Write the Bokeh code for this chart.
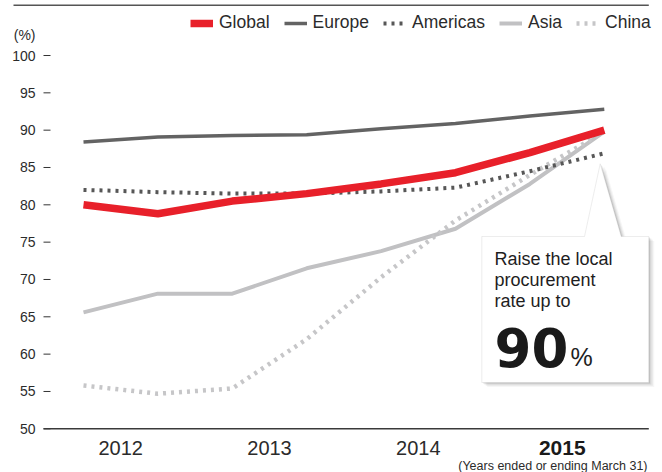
from bokeh.plotting import figure
from bokeh.models import (Label, BoxAnnotation, PolyAnnotation,
                          Legend, LegendItem, Range1d)
from bokeh.core.properties import value
from bokeh.embed import file_html
from bokeh.resources import INLINE

# ---------------- data ----------------
periods = [0, 1, 2, 3, 4, 5, 6, 7]          # half-year steps, FY2012 .. FY2015
years = ["2012", "2013", "2014", "2015"]
global_rate = [80.0, 78.8, 80.5, 81.5, 82.8, 84.3, 87.0, 90.0]
europe_rate = [88.4, 89.1, 89.3, 89.4, 90.2, 90.9, 91.9, 92.8]
americas_rate = [82.0, 81.7, 81.5, 81.5, 81.8, 82.3, 84.5, 86.9]
asia_rate = [65.6, 68.1, 68.1, 71.5, 73.8, 76.8, 82.8, 89.8]
china_rate = [55.8, 54.7, 55.4, 62.0, 70.3, 77.9, 84.0, 89.8]
y_ticks = [50, 55, 60, 65, 70, 75, 80, 85, 90, 95, 100]
target_value = 90
callout_lines = ["Raise the local", "procurement", "rate up to"]
footnote = "(Years ended or ending March 31)"

FONT = "Liberation Sans"
TXT = "#2b2b2b"
W, H = 662, 472

# pixel <-> data helpers (used only for layout of decorations)
X0, XS = 83.0, 74.4            # px of period 0, px per period
Y100, YS = 55.0, 7.466         # px of 100 %, px per percentage point


def dx(px):
    return (px - X0) / XS


def dy(py):
    return 100 - (py - Y100) / YS


p = figure(width=W, height=H, output_backend="svg", toolbar_location=None,
           x_range=Range1d(dx(0), dx(W)), y_range=Range1d(dy(H), dy(0)),
           x_axis_type=None, y_axis_type=None, min_border=0)
p.outline_line_color = None
p.background_fill_color = "white"
p.border_fill_color = "white"

# ---------------- y axis (ticks + labels) ----------------
p.segment(x0=[dx(43)] * len(y_ticks), x1=[dx(50)] * len(y_ticks),
          y0=y_ticks, y1=y_ticks, line_color="#333333", line_width=1)
p.text(x=[dx(35)] * len(y_ticks), y=y_ticks, text=[str(t) for t in y_ticks],
       text_align="right", text_baseline="middle", text_font=value(FONT),
       text_font_size="14px", text_color=TXT)
p.text(x=[dx(35)], y=[dy(34)], text=["(%)"], text_align="right",
       text_baseline="middle", text_font=value(FONT), text_font_size="14px",
       text_color=TXT)

# ---------------- x axis ----------------
p.segment(x0=[dx(43)], x1=[dx(648.3)], y0=[y_ticks[0]], y1=[y_ticks[0]],
          line_color="#3a3a3a", line_width=1.5)
year_pos = [2 * i + 0.5 for i in range(len(years))]
p.text(x=year_pos[:-1], y=[dy(447)] * (len(years) - 1), text=years[:-1],
       text_align="center", text_baseline="middle", text_font=value(FONT),
       text_font_size="20px", text_color=TXT)
p.text(x=[year_pos[-1] - 0.065], y=[dy(447)], text=[years[-1]],
       text_align="center", text_baseline="middle", text_font=value(FONT),
       text_font_size="21px", text_font_style="bold", text_color="#1a1a1a")
p.text(x=[dx(647)], y=[dy(465.5)], text=[footnote], text_align="right",
       text_baseline="middle", text_font=value(FONT), text_font_size="12.5px",
       text_color=TXT)

# top rule
p.add_layout(BoxAnnotation(left=dx(13), right=dx(648.3), top=dy(4.1), bottom=dy(5.5),
                           fill_color="#555555", fill_alpha=1, line_color=None))

# ---------------- lines ----------------
r_asia = p.line(periods, asia_rate, line_color="#c1c1c3", line_width=4)
r_china = p.line(periods, china_rate, line_color="#c6c6c8", line_width=4.5,
                 line_dash="3 5")
r_europe = p.line(periods, europe_rate, line_color="#636363", line_width=3.5)
r_americas = p.line(periods, americas_rate, line_color="#575757", line_width=4,
                    line_dash="3 5")
r_global = p.line(periods, global_rate, line_color="#e8202a", line_width=7.5)

# ---------------- legend ----------------
legend = Legend(items=[LegendItem(label="Global", renderers=[r_global]),
                       LegendItem(label="Europe", renderers=[r_europe]),
                       LegendItem(label="Americas", renderers=[r_americas]),
                       LegendItem(label="Asia", renderers=[r_asia]),
                       LegendItem(label="China", renderers=[r_china])],
                orientation="horizontal", location=(190, 439),
                glyph_width=23, glyph_height=16, label_standoff=6, spacing=14,
                padding=0, margin=0, border_line_color=None,
                background_fill_alpha=0, label_text_font=FONT,
                label_text_font_size="17.5px", label_text_color=TXT)
p.add_layout(legend)

# ---------------- callout ----------------
shape_px = [(481.3, 236), (584, 236), (599.7, 163.3), (620.7, 236),
            (648.3, 236), (648.3, 382), (481.3, 382)]
for off, a in [(5.5, 0.05), (4, 0.08), (2.5, 0.11), (1.2, 0.14)]:
    p.add_layout(PolyAnnotation(xs=[dx(x + off) for x, _ in shape_px],
                                ys=[dy(y + off * 0.8) for _, y in shape_px],
                                fill_color="#4a4a4a", fill_alpha=a, line_color=None))
p.add_layout(PolyAnnotation(xs=[dx(x) for x, _ in shape_px],
                            ys=[dy(y) for _, y in shape_px],
                            fill_color="white", fill_alpha=1,
                            line_color="#c4c4c4", line_width=1))

for i, line in enumerate(callout_lines):
    p.add_layout(Label(x=dx(494), y=dy(258.6 + 21 * i), text=line,
                       text_align="left", text_baseline="middle",
                       text_font=FONT, text_font_size="18px", text_color="#1e1e1e"))
p.add_layout(Label(x=dx(494), y=dy(347), text=str(target_value),
                   text_align="left", text_baseline="middle",
                   text_font="DejaVu Sans", text_font_size="53px",
                   text_font_style="bold", text_color="#1a1a1a"))
p.add_layout(Label(x=dx(570), y=dy(356.2), text="%",
                   text_align="left", text_baseline="middle",
                   text_font=FONT, text_font_size="25px", text_color="#1e1e1e"))

open("out.html", "w").write(file_html(p, INLINE))
